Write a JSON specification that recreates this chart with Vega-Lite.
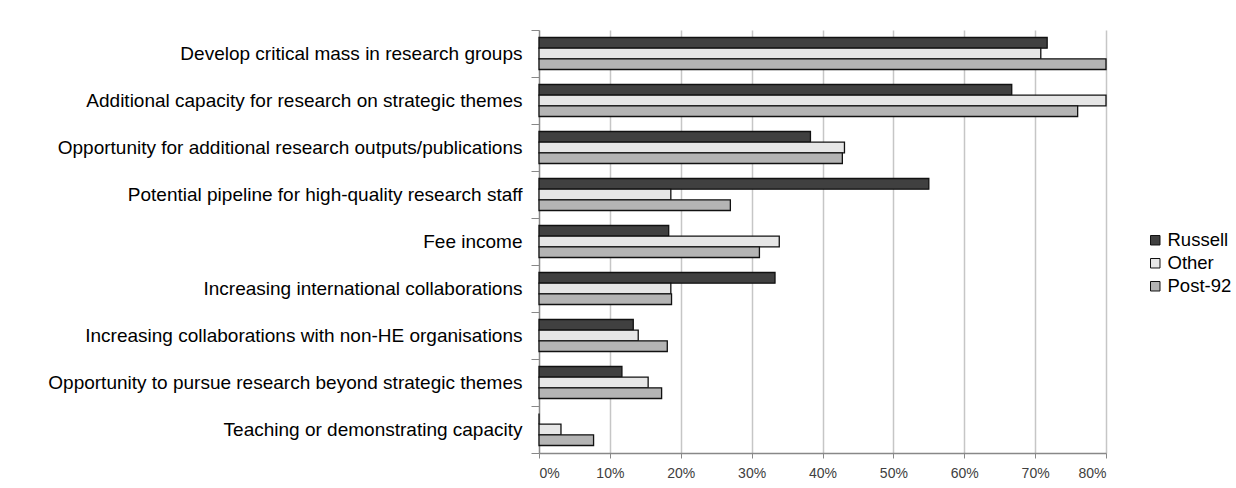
{
  "$schema": "https://vega.github.io/schema/vega-lite/v6.json",
  "autosize": {"type": "none"},
  "width": 567,
  "height": 423,
  "padding": {"left": 539, "top": 30, "right": 130, "bottom": 35},
  "background": "white",
  "data": {
    "values": [
      {"item": "Develop critical mass in research groups", "group": "Russell", "value": 0.717},
      {"item": "Develop critical mass in research groups", "group": "Other", "value": 0.708},
      {"item": "Develop critical mass in research groups", "group": "Post-92", "value": 0.80},
      {"item": "Additional capacity for research on strategic themes", "group": "Russell", "value": 0.667},
      {"item": "Additional capacity for research on strategic themes", "group": "Other", "value": 0.80},
      {"item": "Additional capacity for research on strategic themes", "group": "Post-92", "value": 0.76},
      {"item": "Opportunity for additional research outputs/publications", "group": "Russell", "value": 0.383},
      {"item": "Opportunity for additional research outputs/publications", "group": "Other", "value": 0.431},
      {"item": "Opportunity for additional research outputs/publications", "group": "Post-92", "value": 0.428},
      {"item": "Potential pipeline for high-quality research staff", "group": "Russell", "value": 0.55},
      {"item": "Potential pipeline for high-quality research staff", "group": "Other", "value": 0.186},
      {"item": "Potential pipeline for high-quality research staff", "group": "Post-92", "value": 0.27},
      {"item": "Fee income", "group": "Russell", "value": 0.183},
      {"item": "Fee income", "group": "Other", "value": 0.339},
      {"item": "Fee income", "group": "Post-92", "value": 0.311},
      {"item": "Increasing international collaborations", "group": "Russell", "value": 0.333},
      {"item": "Increasing international collaborations", "group": "Other", "value": 0.186},
      {"item": "Increasing international collaborations", "group": "Post-92", "value": 0.187},
      {"item": "Increasing collaborations with non-HE organisations", "group": "Russell", "value": 0.133},
      {"item": "Increasing collaborations with non-HE organisations", "group": "Other", "value": 0.14},
      {"item": "Increasing collaborations with non-HE organisations", "group": "Post-92", "value": 0.181},
      {"item": "Opportunity to pursue research beyond strategic themes", "group": "Russell", "value": 0.117},
      {"item": "Opportunity to pursue research beyond strategic themes", "group": "Other", "value": 0.154},
      {"item": "Opportunity to pursue research beyond strategic themes", "group": "Post-92", "value": 0.173},
      {"item": "Teaching or demonstrating capacity", "group": "Russell", "value": 0},
      {"item": "Teaching or demonstrating capacity", "group": "Other", "value": 0.031},
      {"item": "Teaching or demonstrating capacity", "group": "Post-92", "value": 0.077}
    ]
  },
  "mark": {"type": "bar", "strokeWidth": 1.3, "stroke": "#111111"},
  "encoding": {
    "y": {
      "field": "item", "type": "nominal", "sort": null, "title": null,
      "scale": {"paddingInner": 0, "paddingOuter": 0},
      "axis": {
        "labelFont": "Liberation Sans", "labelFontSize": 19, "labelColor": "#000000",
        "labelLimit": 530, "tickBand": "extent", "tickSize": 8, "labelPadding": 9,
        "tickColor": "#888888", "domainColor": "#888888", "domainWidth": 1.3, "grid": false
      }
    },
    "yOffset": {
      "field": "group", "type": "nominal",
      "sort": ["Russell", "Other", "Post-92"],
      "scale": {"paddingInner": 0, "paddingOuter": 0.7}
    },
    "x": {
      "field": "value", "type": "quantitative", "title": null,
      "scale": {"domain": [0, 0.8], "nice": false},
      "axis": {
        "format": ".0%", "values": [0, 0.1, 0.2, 0.3, 0.4, 0.5, 0.6, 0.7, 0.8],
        "labelFont": "Liberation Sans", "labelFontSize": 14, "labelColor": "#404040",
        "tickSize": 5, "tickColor": "#888888", "domainColor": "#888888", "domainWidth": 1.3,
        "labelPadding": 8,
        "grid": true, "gridColor": "#c6c6c6", "gridWidth": 1.5
      }
    },
    "fill": {
      "field": "group", "type": "nominal",
      "sort": ["Russell", "Other", "Post-92"],
      "scale": {"domain": ["Russell", "Other", "Post-92"], "range": ["#404040", "#e6e6e6", "#b4b4b4"]},
      "legend": {
        "title": null, "orient": "none", "legendX": 607, "legendY": 201,
        "symbolType": "square", "symbolSize": 90, "symbolStrokeColor": "#111111", "symbolStrokeWidth": 1,
        "labelFont": "Liberation Sans", "labelFontSize": 18.5, "labelColor": "#000000",
        "rowPadding": 4, "labelOffset": 3
      }
    }
  },
  "config": {"view": {"stroke": null}}
}
